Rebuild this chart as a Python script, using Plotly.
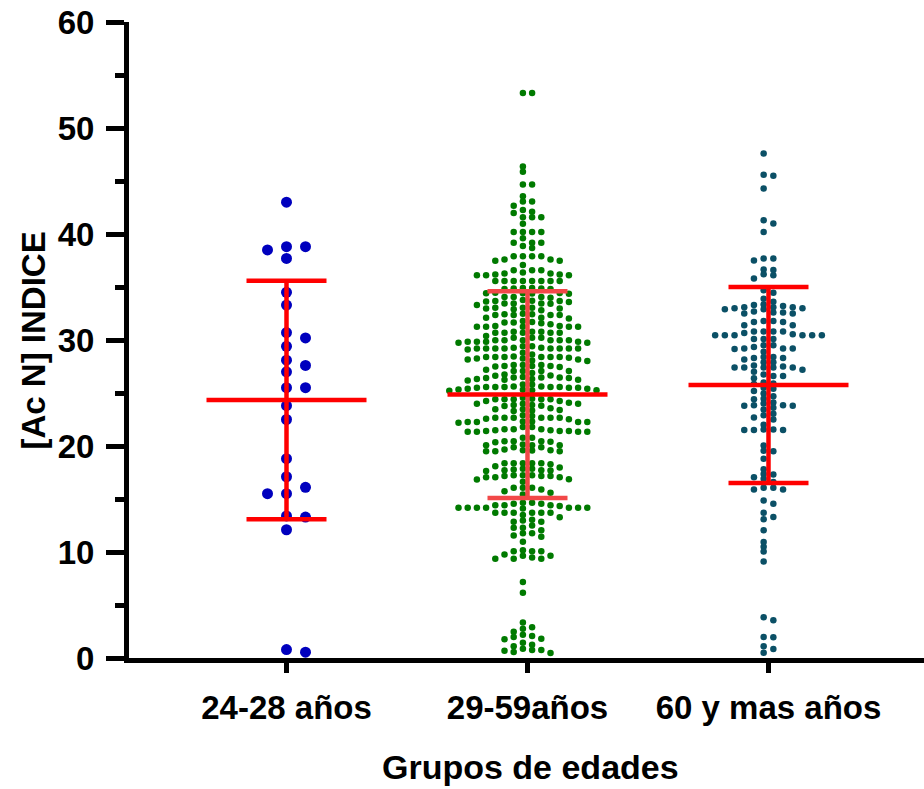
import plotly.graph_objects as go

categories = ["24-28 años", "29-59años", "60 y mas años"]

group1 = [43.0, 38.8, 38.8, 38.5, 37.7, 34.5, 33.3, 30.7, 30.2, 29.4, 28.1, 27.6, 27.0,
          25.5, 25.5, 23.8, 22.5, 18.8, 17.1, 16.1, 15.5, 15.5, 13.4, 13.3, 12.1, 0.8, 0.55]

group2 = [53.3, 53.3, 46.37, 45.87, 44.67, 44.67, 43.57, 43.07, 43.07, 42.67, 42.26, 42.10,
          41.97, 41.57, 41.57, 41.57, 40.97, 40.18, 40.18, 40.18, 40.18, 39.59, 39.18, 39.18,
          39.18, 38.87, 38.68,
          37.91, 37.91, 37.91, 37.91, 37.47, 37.60, 37.60, 37.47, 37.07,
          36.59, 36.59, 36.59, 36.28, 36.12, 36.28, 36.12, 36.37, 36.12, 36.19, 36.19,
          35.56, 35.56, 35.56, 35.56, 35.56, 35.56, 35.56, 35.56,
          34.90, 34.85, 34.80, 34.90, 34.85, 34.80,
          34.42, 34.38, 34.45, 34.40, 34.36, 34.44,
          33.99, 34.05, 34.05, 34.05, 33.45, 33.58, 33.30, 33.45, 33.67, 33.64, 33.42, 33.77,
          33.67, 33.71, 33.45,
          32.98, 32.98, 33.05, 32.89, 33.05, 32.80, 33.05,
          32.48, 32.36, 32.36, 32.10, 32.42, 32.36, 32.36, 32.42, 32.04, 32.10,
          31.66, 31.57, 31.66, 31.26, 31.26, 31.48, 31.79, 31.32, 31.26, 31.70, 31.26, 31.32, 31.26,
          30.79, 30.69, 30.79, 30.69, 30.69, 30.38, 30.79, 30.69, 30.69,
          29.75, 29.97, 30.22, 29.84, 29.84, 30.22, 29.84, 29.84, 29.97, 29.75, 29.97, 29.97,
          30.22, 29.97, 29.97,
          29.20, 29.27, 29.20, 29.27, 29.20, 29.42, 29.20, 29.20, 29.20, 29.11, 29.42, 29.20, 29.20,
          28.26, 28.64, 28.39, 28.39, 28.39, 28.39, 28.39, 28.80, 28.32, 28.07, 28.45, 28.01,
          28.17, 28.26, 28.39, 28.17,
          27.54, 27.54, 27.63, 27.63, 27.54, 27.63, 27.51, 27.45,
          26.47, 26.47, 26.88, 26.41, 26.75, 26.31, 27.19, 26.63, 26.31, 27.07, 26.47, 27.07,
          26.25, 26.25, 26.19, 27.07, 26.41, 27.07, 26.50, 26.66,
          25.56, 25.31, 25.81, 25.25, 25.22, 25.50, 25.40, 25.50, 25.56, 25.81, 25.34, 25.56,
          25.50, 25.62, 25.62, 25.40, 25.25, 25.56, 25.56,
          24.40, 23.87, 24.24, 23.77, 24.46, 23.99, 24.40, 24.09, 24.56, 24.40, 23.99, 23.99,
          24.40, 24.24, 23.80, 24.40, 23.87,
          23.36, 23.46, 23.46, 23.55, 23.30, 23.39,
          22.58, 22.67, 22.89, 22.26, 22.26, 22.20, 22.67, 22.26, 22.83, 22.30, 22.67, 22.26,
          22.67, 22.67, 22.30, 22.52, 22.67,
          21.57, 21.48, 21.35, 21.35, 21.42, 21.57, 21.35, 21.48, 21.42, 21.79, 21.79, 21.35,
          21.42, 21.57,
          20.45, 20.77, 19.89, 20.36, 20.45, 20.14, 20.08, 20.45, 19.89, 20.08, 20.77, 20.08, 20.39,
          19.60, 19.51, 19.67, 19.57, 19.51, 19.60, 19.51,
          18.38, 17.85, 18.38, 17.72, 18.29, 17.72, 18.10, 17.63, 17.97, 18.38, 17.85, 18.38,
          17.69, 18.38, 17.78,
          17.25, 17.25, 17.16, 16.84, 17.06, 17.06, 17.16, 16.62, 17.06, 16.87, 17.25, 17.16,
          16.06, 15.43, 15.90, 16.06, 15.59, 16.06, 15.74,
          14.55, 14.42, 14.17, 14.64, 14.17, 13.70, 14.33, 13.70, 14.17, 13.70, 14.17, 13.70,
          14.64, 14.17, 14.55, 14.11, 13.48, 14.42, 13.70, 14.17, 13.70, 14.42, 14.17, 13.29,
          12.98, 12.85, 13.04, 12.85,
          12.50, 12.28, 12.06, 12.28, 11.77, 11.55, 11.77, 11.43, 10.96,
          9.76, 9.64, 10.08, 9.36, 10.08, 9.48, 10.17, 9.36, 10.08, 9.36, 9.64,
          7.16, 6.15,
          3.36, 2.89, 2.76, 2.48, 2.07, 1.98, 2.20, 1.82, 1.76, 1.44, 1.26, 1.10, 0.88, 0.56,
          0.69, 0.75, 0.47, 0.75]

group3 = [47.6, 45.5, 45.6, 44.3, 41.3, 41.0, 40.2, 37.7, 37.7, 37.5, 36.65, 36.6, 36.1, 36.2,
          35.8, 34.7, 34.45, 33.9, 33.3, 33.6, 33.35, 32.7, 33.2, 33.1, 33.1, 33.1,
          32.6, 32.9, 32.9, 33.0, 32.6, 33.0, 32.5, 32.5, 31.7, 31.8, 31.8, 31.7, 31.4, 31.4,
          30.8, 30.8, 30.8, 30.8,
          30.45, 30.45, 30.45, 30.1, 30.45, 30.65, 30.1, 30.1, 30.55, 30.45, 30.45,
          29.5, 29.2, 29.2, 29.2, 29.15, 29.5, 29.35, 28.9,
          28.4, 28.4, 28.3, 28.15, 28.3, 27.9, 27.9,
          27.4, 27.4, 27.5, 27.6, 27.2, 27.4, 27.0, 26.75, 27.4, 27.4,
          26.6, 26.6, 26.4, 25.9, 25.85, 26.0,
          25.2, 25.4, 25.5, 24.7, 24.95, 24.45, 24.4,
          23.85, 23.8, 24.1, 23.6, 24.0, 23.45, 23.85, 23.8,
          22.9, 22.5, 22.7, 23.05,
          21.55, 22.0, 21.5, 21.55, 21.5, 21.5,
          20.05, 19.5, 19.55, 18.8,
          17.8, 17.35, 17.3, 17.05, 16.9,
          16.05, 15.9, 16.05, 15.9, 16.6,
          14.85, 14.55, 13.3, 13.7, 13.1, 12.05, 10.5, 10.95, 10.05, 9.1,
          3.85, 3.55, 1.95, 1.98, 1.1, 0.85, 0.5]

means = [24.35, 24.85, 25.75]
sds = [11.25, 9.75, 9.25]

groups = [group1, group2, group3]
colors = ["#0000BE", "#007A00", "#0B5066"]
marker_sizes = [11, 6.5, 6.5]
col_step_px = [19.0, 9.2, 9.7]
min_sep_px = [11.0, 5.2, 4.6]
half_grid = [False, True, True]
sd_colors = ["#FF0000", "#F24848", "#FF0000"]
mean_colors = ["#FF0000", "#FF0000", "#FF0000"]

PX_PER_X = 241.0
PX_PER_Y = 10.6


def swarm_offsets(values, step_px, sep_px, half):
    if half:
        cands = []
        for k in range(40):
            cands += [-(k + 0.5), (k + 0.5)]
    else:
        cands = [0]
        for k in range(1, 40):
            cands += [k, -k]
    order = sorted(range(len(values)), key=lambda i: -values[i])
    placed = {}
    offs = [0.0] * len(values)
    for i in order:
        v = values[i]
        for c in cands:
            ys = placed.get(c, [])
            if all(abs(v - y) * PX_PER_Y >= sep_px for y in ys):
                placed.setdefault(c, []).append(v)
                offs[i] = c * step_px / PX_PER_X
                break
    return offs


fig = go.Figure()

for gi, vals in enumerate(groups):
    offs = swarm_offsets(vals, col_step_px[gi], min_sep_px[gi], half_grid[gi])
    fig.add_trace(go.Scatter(
        x=[gi + o for o in offs], y=vals, mode="markers",
        marker=dict(size=marker_sizes[gi], color=colors[gi], line=dict(width=0)),
        cliponaxis=False, showlegend=False, hoverinfo="y"))

MEAN_HALF = 80.0 / PX_PER_X
CAP_HALF = 40.0 / PX_PER_X
for gi in range(3):
    m, s = means[gi], sds[gi]
    fig.add_trace(go.Scatter(x=[gi, gi], y=[m - s, m + s], mode="lines",
                             line=dict(color=sd_colors[gi], width=4.5),
                             showlegend=False, hoverinfo="skip", cliponaxis=False))
    for yv in (m - s, m + s):
        fig.add_trace(go.Scatter(x=[gi - CAP_HALF, gi + CAP_HALF], y=[yv, yv], mode="lines",
                                 line=dict(color=sd_colors[gi], width=4.5),
                                 showlegend=False, hoverinfo="skip", cliponaxis=False))
    fig.add_trace(go.Scatter(x=[gi - MEAN_HALF, gi + MEAN_HALF], y=[m, m], mode="lines",
                             line=dict(color=mean_colors[gi], width=4.5),
                             showlegend=False, hoverinfo="skip", cliponaxis=False))

W, H = 924, 789
L, R, T, B = 129, 0, 22, 131
fig.update_layout(
    width=W, height=H,
    margin=dict(l=L, r=R, t=T, b=B, pad=0),
    paper_bgcolor="white", plot_bgcolor="white",
    font=dict(family="Liberation Sans, Arial, sans-serif", color="black"),
    xaxis=dict(range=[-(286.5 - L) / PX_PER_X, 2 + (W - 768.5) / PX_PER_X],
               tickvals=[0, 1, 2], ticktext=categories,
               showline=True, linewidth=5, linecolor="black",
               ticks="outside", ticklen=10, tickwidth=5, tickcolor="black",
               ticklabelstandoff=6,
               tickfont=dict(size=33, weight="bold"),
               showgrid=False, zeroline=False, fixedrange=True),
    yaxis=dict(range=[0, 60], tickvals=[0, 10, 20, 30, 40, 50, 60],
               showline=True, linewidth=5, linecolor="black",
               ticks="outside", ticklen=18, tickwidth=5, tickcolor="black",
               ticklabelstandoff=5,
               minor=dict(dtick=5, ticks="outside", ticklen=9, tickwidth=5, tickcolor="black",
                          showgrid=False),
               tickfont=dict(size=33, weight="bold"),
               showgrid=False, zeroline=False, fixedrange=True),
    annotations=[
        dict(text="[Ac N] INDICE", xref="paper", yref="paper",
             x=(33 - L) / (W - L - R), y=(658.5 - 341) / (H - T - B),
             xanchor="center", yanchor="middle", textangle=-90, showarrow=False,
             font=dict(size=33, weight="bold")),
        dict(text="Grupos de edades", xref="paper", yref="paper",
             x=(530 - L) / (W - L - R), y=(658.5 - 767) / (H - T - B),
             xanchor="center", yanchor="middle", showarrow=False, borderpad=0,
             font=dict(size=34, weight="bold")),
    ],
)

fig.write_html("out.html")
